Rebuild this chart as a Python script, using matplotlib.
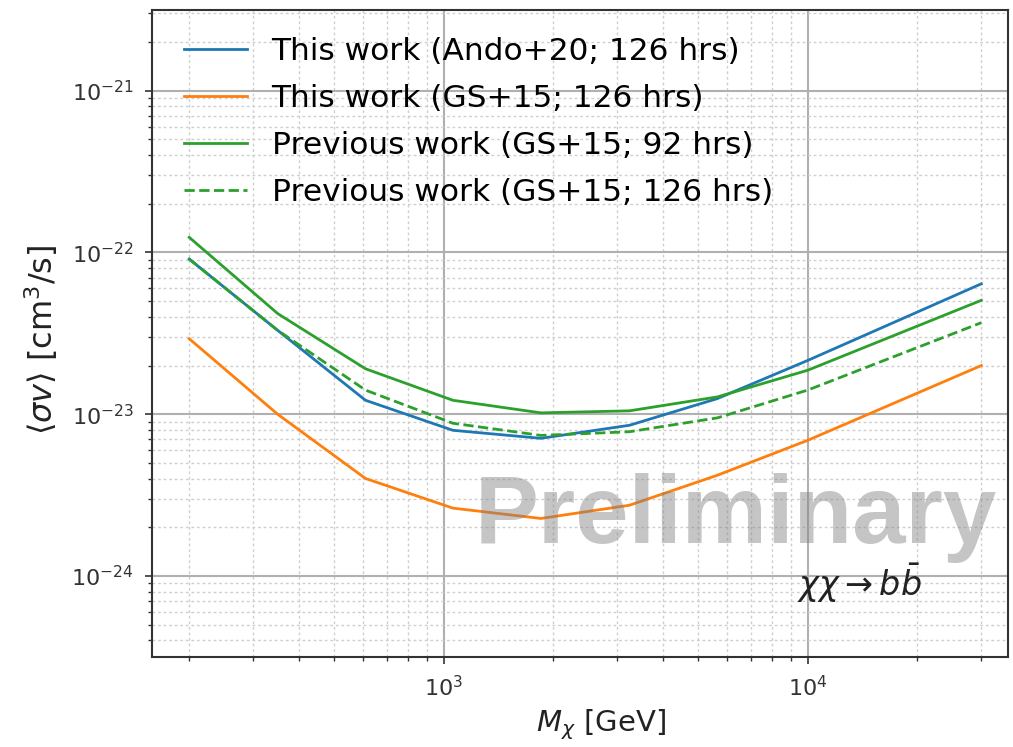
import matplotlib
matplotlib.use("Agg")
import matplotlib.pyplot as plt
from matplotlib.ticker import NullFormatter

# Dark matter mass grid [GeV]
mass = [200, 350, 610, 1060, 1850, 3240, 5650, 10000, 30000]

# Upper limits on <sigma v> [cm^3/s]
ando20_126h = [9.1e-23, 3.3e-23, 1.22e-23, 7.96e-24, 7.1e-24, 8.55e-24, 1.25e-23, 2.15e-23, 6.4e-23]
gs15_126h = [2.93e-23, 1.0e-23, 4.01e-24, 2.63e-24, 2.27e-24, 2.74e-24, 4.2e-24, 6.9e-24, 2.0e-23]
prev_gs15_92h = [1.24e-22, 4.19e-23, 1.91e-23, 1.22e-23, 1.02e-23, 1.05e-23, 1.28e-23, 1.87e-23, 5.06e-23]
prev_gs15_126h = [9.1e-23, 3.3e-23, 1.41e-23, 8.8e-24, 7.4e-24, 7.8e-24, 9.5e-24, 1.41e-23, 3.68e-23]

labels = [
    "This work (Ando+20; 126 hrs)",
    "This work (GS+15; 126 hrs)",
    "Previous work (GS+15; 92 hrs)",
    "Previous work (GS+15; 126 hrs)",
]

fig = plt.figure(figsize=(10.13, 7.47), dpi=100)
ax = fig.add_axes([0.150, 0.1205, 0.845, 0.8665])

ax.plot(mass, ando20_126h, color="C0", lw=2, label=labels[0])
ax.plot(mass, gs15_126h, color="C1", lw=2, label=labels[1])
ax.plot(mass, prev_gs15_92h, color="C2", lw=2, label=labels[2])
ax.plot(mass, prev_gs15_126h, color="C2", lw=2, ls="--", label=labels[3])

ax.set_xscale("log")
ax.set_yscale("log")
ax.set_xlim(158, 35500)
ax.set_ylim(10**-24.5, 10**-20.5)
ax.xaxis.set_minor_formatter(NullFormatter())
ax.yaxis.set_minor_formatter(NullFormatter())

ax.grid(which="major", color="#b0b0b0", lw=1.5, ls="-")
ax.grid(which="minor", color="#cfcfcf", lw=1.0, ls=(0, (2, 2)))
ax.set_axisbelow(True)

ax.tick_params(which="major", labelsize=16, length=5, width=1.2, pad=8,
               colors="#333333", labelcolor="#333333")
ax.tick_params(which="minor", length=3, width=1.0, colors="#333333")
for sp in ax.spines.values():
    sp.set_color("#333333")
    sp.set_linewidth(1.5)

ax.set_xlabel(r"$M_\chi$ [GeV]", fontsize=21, color="#222222")
ax.xaxis.set_label_coords(0.525, -0.078)
ax.set_ylabel(r"$\langle\sigma v\rangle$ [cm$^3$/s]", fontsize=23, color="#222222")
ax.yaxis.set_label_coords(-0.108, 0.49)

ax.legend(loc="upper left", bbox_to_anchor=(0.012, 0.992), frameon=False, fontsize=22.5,
          handlelength=2.0, borderaxespad=0.3, labelspacing=0.58)

ax.text(0.753, 0.114, r"$\chi\chi \rightarrow b\bar{b}$", transform=ax.transAxes,
        fontsize=24, va="center", ha="left", color="#222222")

ax.text(0.682, 0.214, "Preliminary", transform=ax.transAxes, fontsize=69,
        fontweight="bold", family="Liberation Sans", color="gray", alpha=0.45,
        ha="center", va="center", zorder=5)

fig.savefig("out.png", dpi=100)
